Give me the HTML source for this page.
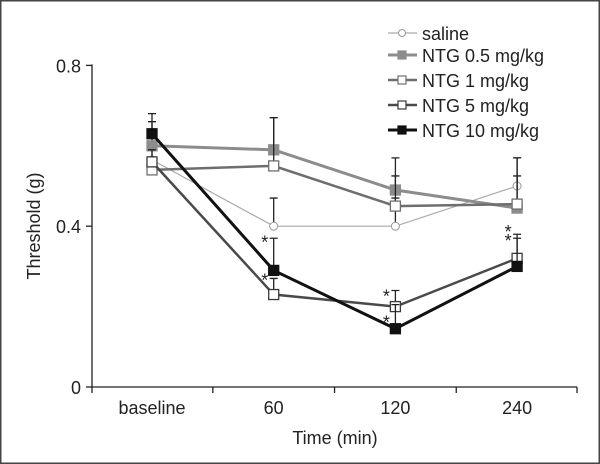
<!DOCTYPE html>
<html><head><meta charset="utf-8"><style>
html,body{margin:0;padding:0;background:#fff}
svg{display:block;font-family:"Liberation Sans",Arial,sans-serif}
</style></head><body>
<svg id="chart" width="600" height="464" viewBox="0 0 600 464">
<rect x="0.5" y="0.5" width="599" height="463" fill="#fff" stroke="#444" stroke-width="2"/>
<g id="axes"></g>
<g id="series"></g>
<g id="legend"></g>
</svg>
<script>
const categories = ["baseline","60","120","240"];
const yTicks = [0, 0.4, 0.8];
const yTickLabels = ["0","0.4","0.8"];
const seriesNames = ["saline","NTG 0.5 mg/kg","NTG 1 mg/kg","NTG 5 mg/kg","NTG 10 mg/kg"];
const salineVals = [0.565, 0.40, 0.40, 0.50];
const salineErr = [0.03, 0.07, 0.07, 0.07];
const ntg05Vals = [0.60, 0.59, 0.49, 0.445];
const ntg05Err = [0.06, 0.08, 0.08, 0.125];
const ntg1Vals = [0.54, 0.55, 0.45, 0.455];
const ntg1Err = [0.03, 0.12, 0.075, 0.07];
const ntg5Vals = [0.56, 0.23, 0.20, 0.32];
const ntg5Err = [0.03, 0.04, 0.04, 0.06];
const ntg10Vals = [0.63, 0.29, 0.145, 0.30];
const ntg10Err = [0.05, 0.08, 0.06, 0.07];
const stars = [[1,0.37,"a"],[1,0.275,"a"],[2,0.235,"a"],[2,0.17,"a"],[3,0.395,"a"],[3,0.373,"a"]];

const NS="http://www.w3.org/2000/svg";
const x0=92,x1=577,yZero=387,yPer=402;
function yS(v){return yZero - v*yPer;}
function xS(i){return 152 + i*121.7;}
function mk(tag,attrs,parent){const e=document.createElementNS(NS,tag);for(const k in attrs)e.setAttribute(k,attrs[k]);parent.appendChild(e);return e;}
const axes=document.getElementById('axes');
let e=mk('line',{x1:x0,y1:yZero,x2:x1,y2:yZero,stroke:'#222','stroke-width':1.3},axes);


e=mk('line',{x1:x0,y1:yS(0.8)-1,x2:x0,y2:yZero,stroke:'#222','stroke-width':1.3},axes);


yTicks.forEach((t,i)=>{
  let tk=mk('line',{x1:x0-6,y1:yS(t),x2:x0,y2:yS(t),stroke:'#222','stroke-width':1.3},axes);
  
  
  let tx=mk('text',{x:x0-11,y:yS(t)+7,'text-anchor':'end','font-size':18,fill:'#222'},axes);
  tx.textContent=yTickLabels[i];
  
  
});
for(let i=0;i<=categories.length;i++){
  const xx = i===0?x0:(i===categories.length?x1:(xS(i-1)+xS(i))/2);
  let tk=mk('line',{x1:xx,y1:yZero,x2:xx,y2:yZero+6,stroke:'#222','stroke-width':1.3},axes);
  
  
}
categories.forEach((c,i)=>{
  let tx=mk('text',{x:xS(i),y:414,'text-anchor':'middle','font-size':18,fill:'#222'},axes);
  tx.textContent=c;
  
  
});
let xt=mk('text',{x:335,y:444,'text-anchor':'middle','font-size':18,fill:'#222'},axes);
xt.textContent='Time (min)';


let yt=mk('text',{x:0,y:0,'text-anchor':'middle','font-size':18,fill:'#222',transform:'translate(40,226) rotate(-90)'},axes);
yt.textContent='Threshold (g)';



const styles=[
 {vals:salineVals,err:salineErr,color:'#aaa',w:1.2,marker:'circle',fill:'#fff',mc:'#999'},
 {vals:ntg05Vals,err:ntg05Err,color:'#8c8c8c',w:3,marker:'square',fill:'#8c8c8c',mc:'#8c8c8c'},
 {vals:ntg1Vals,err:ntg1Err,color:'#6e6e6e',w:2.5,marker:'square',fill:'#fff',mc:'#6e6e6e'},
 {vals:ntg5Vals,err:ntg5Err,color:'#4a4a4a',w:2.5,marker:'square',fill:'#fff',mc:'#3a3a3a'},
 {vals:ntg10Vals,err:ntg10Err,color:'#111',w:3,marker:'square',fill:'#111',mc:'#111'}
];
const sg=document.getElementById('series');
styles.forEach((s,si)=>{
  const g=mk('g',{},sg);
  
  
  s.vals.forEach((v,i)=>{
    const top=yS(v+s.err[i]);
    let eb=mk('path',{d:`M${xS(i)},${yS(v)}V${top}M${xS(i)-4},${top}H${xS(i)+4}`,stroke:'#222','stroke-width':1.3,fill:'none'},g);
    
    
  });
  let ln=mk('polyline',{points:s.vals.map((v,i)=>xS(i)+','+yS(v)).join(' '),stroke:s.color,'stroke-width':s.w,fill:'none'},g);
  
  
  s.vals.forEach((v,i)=>{
    let m;
    if(s.marker==='circle') m=mk('circle',{cx:xS(i),cy:yS(v),r:4,fill:s.fill,stroke:s.mc,'stroke-width':1},g);
    else m=mk('rect',{x:xS(i)-5,y:yS(v)-5,width:10,height:10,fill:s.fill,stroke:s.mc,'stroke-width':1.3},g);
    
    
  });
});
stars.forEach(st=>{
  let t=mk('text',{x:xS(st[0])-9,y:yS(st[1])+10,'text-anchor':'middle','font-size':18,fill:'#222'},sg);
  t.textContent='*';
  
  
});
const lg=document.getElementById('legend');
const ly=[33,55,80,105,130];
styles.forEach((s,i)=>{
  const g=mk('g',{},lg);
  
  
  mk('line',{x1:388,y1:ly[i],x2:417,y2:ly[i],stroke:s.color,'stroke-width':s.w},g);
  if(s.marker==='circle') mk('circle',{cx:402,cy:ly[i],r:3.5,fill:'#fff',stroke:s.mc,'stroke-width':1},g);
  else mk('rect',{x:398,y:ly[i]-4,width:8,height:8,fill:s.fill,stroke:s.mc,'stroke-width':1.2},g);
  const t=mk('text',{x:422,y:ly[i]+7,'font-size':18,fill:'#222'},g);
  t.textContent=seriesNames[i];
});
</script>
</body></html>
